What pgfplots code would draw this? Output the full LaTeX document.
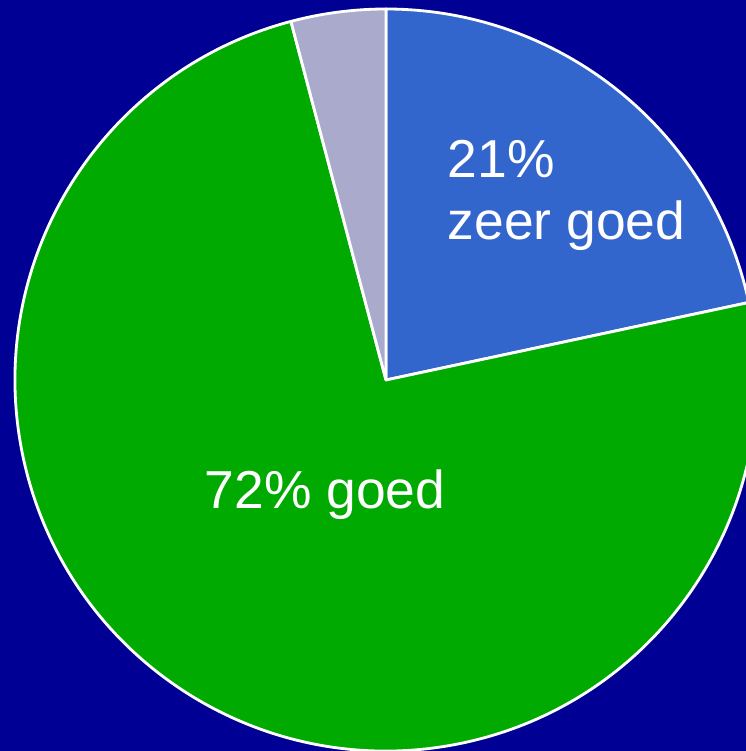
\documentclass[border=0pt]{standalone}
\usepackage{pgfplots}
\pgfplotsset{compat=1.18}
\usepackage{pgfplotstable}
\usepackage{fontspec}
\setmainfont{Liberation Sans}
\definecolor{bg}{HTML}{000094}
\definecolor{sliceblue}{HTML}{3366CC}
\definecolor{slicegreen}{HTML}{00AA00}
\definecolor{slicegrey}{HTML}{AAAACC}
\pgfplotstableread{
label value
zeergoed 21
goed 72
overig 4
}\piedata
\begin{document}
\begin{tikzpicture}
\pgfplotstablegetelem{0}{value}\of\piedata \let\va\pgfplotsretval
\pgfplotstablegetelem{1}{value}\of\piedata \let\vb\pgfplotsretval
\pgfplotstablegetelem{2}{value}\of\piedata \let\vc\pgfplotsretval
\pgfmathsetmacro\tot{\va+\vb+\vc}
\pgfmathsetmacro\aA{90}
\pgfmathsetmacro\aB{90-360*(\va/\tot)}
\pgfmathsetmacro\aC{\aB-360*(\vb/\tot)}
\pgfmathsetmacro\aD{\aC-360*(\vc/\tot)}
\begin{axis}[x=1cm,y=1cm,xmin=0,xmax=7.46,ymin=-7.51,ymax=0,hide axis,clip=true,disabledatascaling]
\fill[bg] (0,-7.51) rectangle (7.46,0);
\filldraw[fill=sliceblue,draw=white,line width=0.8pt,line join=round] (3.86,-3.80) -- ({3.86+3.71*cos(\aA)},{-3.80+3.71*sin(\aA)}) arc[start angle=\aA,end angle=\aB,radius=3.71cm] -- cycle;
\filldraw[fill=slicegreen,draw=white,line width=0.8pt,line join=round] (3.86,-3.80) -- ({3.86+3.71*cos(\aB)},{-3.80+3.71*sin(\aB)}) arc[start angle=\aB,end angle=\aC,radius=3.71cm] -- cycle;
\filldraw[fill=slicegrey,draw=white,line width=0.8pt,line join=round] (3.86,-3.80) -- ({3.86+3.71*cos(\aC)},{-3.80+3.71*sin(\aC)}) arc[start angle=\aC,end angle=\aD,radius=3.71cm] -- cycle;
\node[anchor=west,align=left,inner sep=0pt,text=white,font=\fontsize{15.2}{17.6}\selectfont] at (4.47,-1.95) {21\%\\zeer goed};
\node[anchor=center,inner sep=0pt,text=white,font=\fontsize{15.2}{17.6}\selectfont] at (3.25,-4.95) {72\% goed};
\end{axis}
\end{tikzpicture}
\end{document}
